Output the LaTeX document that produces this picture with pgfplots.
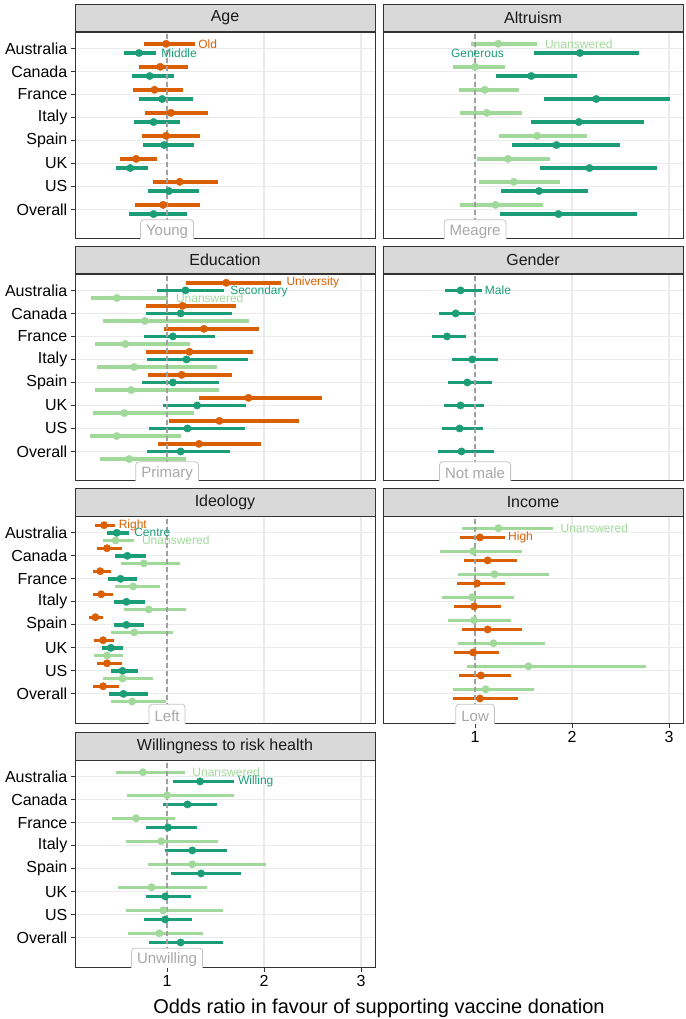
\documentclass[border=0pt]{standalone}
\usepackage{fontspec}
\setmainfont{Liberation Sans}
\usepackage{pgfplots}
\pgfplotsset{compat=1.18}
\definecolor{cOr}{HTML}{D95F02}
\definecolor{cTe}{HTML}{1B9E77}
\definecolor{cLi}{HTML}{A1D99B}
\definecolor{gridc}{HTML}{EBEBEB}
\definecolor{bord}{HTML}{333333}
\definecolor{stripc}{HTML}{D9D9D9}
\definecolor{refb}{HTML}{C4C4C4}
\definecolor{reft}{HTML}{A8A8A8}
\definecolor{dashc}{HTML}{A0A0A0}
\tikzset{
  refline/.style={dashc, line width=1.3pt, dash pattern=on 5pt off 3pt},
  refbox/.style={draw=refb, fill=white, rounded corners=3pt, text=reft,
    font=\fontsize{15}{18}\selectfont, inner xsep=5.5pt, inner ysep=0pt,
    minimum height=23.4pt, line width=0.8pt},
  lab/.style={anchor=west, inner sep=0pt, text=#1, font=\fontsize{12}{14}\selectfont},
}
\pgfplotsset{
  panel/.style={scale only axis, width=300pt, height=206.6pt,
    xmin=0.05, xmax=3.145, ymin=-0.28, ymax=8.70,
    xtick={1,2,3}, ytick={1,2,3,4,5,6,7,8},
    grid=major, major grid style={draw=gridc, line width=1.1pt},
    axis line style={draw=bord, line width=0.9pt},
    tick align=outside, tick pos=left, major tick length=4.5pt,
    tick style={draw=bord, line width=0.9pt},
    /pgf/number format/assume math mode=true,
    tick label style={font=\fontsize{16}{19}\selectfont, text=black},
    yticklabel style={inner xsep=3pt},
    every axis title/.style={at={(0.5,1)}, anchor=south, draw=bord, fill=stripc,
      line width=0.9pt, minimum width=300pt, minimum height=27.5pt, inner sep=0pt,
      font=\fontsize{16}{19}\selectfont, text={black!90}},
  },
  leftcol/.style={yticklabels={Overall,US,UK,Spain,Italy,France,Canada,Australia}},
  rightcol/.style={yticklabels={}, y tick style={draw=none}},
  notbottom/.style={xticklabels={}, x tick style={draw=none}},
  ci/.style={only marks, mark=*, mark size=3.7pt, color=#1,
    error bars/.cd, x dir=both, x explicit, error mark=none,
    error bar style={line width=3.4pt, solid}},
}
% table columns: row est lo hi
\newcommand{\ciplot}[3]{\addplot[ci=#1] table[row sep=\\, x=est, y expr=\thisrow{row}+#2,
  x error plus expr=\thisrow{hi}-\thisrow{est},
  x error minus expr=\thisrow{est}-\thisrow{lo}] {#3};}
\newcommand{\vref}{\addplot[refline] coordinates {(1,-1) (1,10)};}
\begin{document}
\begin{tikzpicture}
\useasboundingbox (0pt,0pt) rectangle (685pt,-1019pt);

% ---------- Age ----------
\begin{axis}[panel, leftcol, notbottom, at={(75pt,-32.3pt)}, anchor=north west, title={Age}]
\ciplot{cOr}{0.2}{
row est lo hi\\
8 0.99 0.76 1.29\\
7 0.93 0.71 1.22\\
6 0.87 0.65 1.16\\
5 1.04 0.77 1.42\\
4 0.99 0.74 1.34\\
3 0.68 0.51 0.90\\
2 1.13 0.85 1.53\\
1 0.96 0.67 1.34\\
}
\ciplot{cTe}{-0.2}{
row est lo hi\\
8 0.71 0.56 0.89\\
7 0.82 0.64 1.07\\
6 0.95 0.71 1.27\\
5 0.86 0.66 1.13\\
4 0.97 0.75 1.28\\
3 0.62 0.47 0.80\\
2 1.02 0.80 1.33\\
1 0.86 0.61 1.21\\
}
\vref
\node[lab=cOr] at (axis cs:1.32,8.2) {Old};
\node[lab=cTe] at (axis cs:0.94,7.8) {Middle};
\node[refbox] at (axis cs:1,0.04) {Young};
\end{axis}

% ---------- Altruism ----------
\begin{axis}[panel, rightcol, notbottom, at={(383pt,-32.3pt)}, anchor=north west, title={Altruism}]
\ciplot{cLi}{0.2}{
row est lo hi\\
8 1.24 0.96 1.64\\
7 1.00 0.77 1.31\\
6 1.10 0.83 1.45\\
5 1.12 0.84 1.48\\
4 1.64 1.25 2.15\\
3 1.34 1.02 1.77\\
2 1.40 1.04 1.88\\
1 1.21 0.84 1.70\\
}
\ciplot{cTe}{-0.2}{
row est lo hi\\
8 2.08 1.61 2.69\\
7 1.58 1.22 2.05\\
6 2.25 1.71 3.01\\
5 2.07 1.58 2.74\\
4 1.84 1.38 2.49\\
3 2.18 1.67 2.88\\
2 1.66 1.27 2.16\\
1 1.86 1.26 2.67\\
}
\vref
\node[lab=cLi] at (axis cs:1.72,8.2) {Unanswered};
\node[lab=cTe] at (axis cs:0.75,7.8) {Generous};
\node[refbox] at (axis cs:1,0.04) {Meagre};
\end{axis}

% ---------- Education ----------
\begin{axis}[panel, leftcol, notbottom, at={(75pt,-274.3pt)}, anchor=north west, title={Education}]
\ciplot{cOr}{0.33}{
row est lo hi\\
8 1.61 1.20 2.18\\
7 1.16 0.78 1.71\\
6 1.38 0.97 1.95\\
5 1.23 0.78 1.89\\
4 1.15 0.80 1.67\\
3 1.84 1.33 2.60\\
2 1.54 1.02 2.36\\
1 1.33 0.91 1.97\\
}
\ciplot{cTe}{0}{
row est lo hi\\
8 1.19 0.90 1.59\\
7 1.14 0.78 1.67\\
6 1.06 0.76 1.49\\
5 1.20 0.79 1.83\\
4 1.06 0.74 1.54\\
3 1.31 0.96 1.81\\
2 1.21 0.81 1.80\\
1 1.14 0.79 1.65\\
}
\ciplot{cLi}{-0.33}{
row est lo hi\\
8 0.48 0.22 1.01\\
7 0.77 0.34 1.85\\
6 0.57 0.26 1.24\\
5 0.66 0.28 1.52\\
4 0.63 0.26 1.54\\
3 0.56 0.24 1.28\\
2 0.48 0.20 1.14\\
1 0.61 0.31 1.19\\
}
\vref
\node[lab=cOr] at (axis cs:2.23,8.33) {University};
\node[lab=cTe] at (axis cs:1.65,7.97) {Secondary};
\node[lab=cLi] at (axis cs:1.09,7.67) {Unanswered};
\node[refbox] at (axis cs:1,0.04) {Primary};
\end{axis}

% ---------- Gender ----------
\begin{axis}[panel, rightcol, notbottom, at={(383pt,-274.3pt)}, anchor=north west, title={Gender}]
\ciplot{cTe}{0}{
row est lo hi\\
8 0.85 0.69 1.07\\
7 0.80 0.63 1.00\\
6 0.71 0.56 0.91\\
5 0.97 0.76 1.24\\
4 0.92 0.72 1.17\\
3 0.85 0.68 1.09\\
2 0.84 0.66 1.08\\
1 0.86 0.62 1.20\\
}
\vref
\node[lab=cTe] at (axis cs:1.10,8) {Male};
\node[refbox] at (axis cs:1,0.04) {Not male};
\end{axis}

% ---------- Ideology ----------
\begin{axis}[panel, leftcol, notbottom, at={(75pt,-516.7pt)}, anchor=north west, title={Ideology}]
\ciplot{cOr}{0.33}{
row est lo hi\\
8 0.35 0.26 0.46\\
7 0.38 0.28 0.53\\
6 0.31 0.24 0.42\\
5 0.32 0.24 0.44\\
4 0.26 0.19 0.34\\
3 0.34 0.25 0.45\\
2 0.38 0.28 0.53\\
1 0.34 0.24 0.50\\
}
\ciplot{cTe}{0}{
row est lo hi\\
8 0.48 0.38 0.61\\
7 0.59 0.46 0.78\\
6 0.52 0.39 0.69\\
5 0.58 0.45 0.77\\
4 0.58 0.45 0.76\\
3 0.42 0.33 0.55\\
2 0.54 0.42 0.70\\
1 0.55 0.40 0.80\\
}
\ciplot{cLi}{-0.33}{
row est lo hi\\
8 0.47 0.34 0.66\\
7 0.76 0.52 1.13\\
6 0.65 0.46 0.93\\
5 0.81 0.56 1.20\\
4 0.66 0.42 1.06\\
3 0.38 0.25 0.55\\
2 0.54 0.34 0.85\\
1 0.64 0.42 0.99\\
}
\vref
\node[lab=cOr] at (axis cs:0.50,8.33) {Right};
\node[lab=cTe] at (axis cs:0.66,8.0) {Centre};
\node[lab=cLi] at (axis cs:0.74,7.67) {Unanswered};
\node[refbox] at (axis cs:1,0.04) {Left};
\end{axis}

% ---------- Income ----------
\begin{axis}[panel, rightcol, at={(383pt,-516.7pt)}, anchor=north west, title={Income}]
\ciplot{cLi}{0.2}{
row est lo hi\\
8 1.24 0.86 1.80\\
7 0.98 0.64 1.48\\
6 1.20 0.82 1.76\\
5 0.97 0.66 1.40\\
4 0.99 0.72 1.37\\
3 1.19 0.82 1.72\\
2 1.55 0.92 2.76\\
1 1.11 0.77 1.61\\
}
\ciplot{cOr}{-0.2}{
row est lo hi\\
8 1.05 0.84 1.31\\
7 1.13 0.89 1.43\\
6 1.02 0.81 1.31\\
5 0.99 0.78 1.27\\
4 1.13 0.87 1.48\\
3 0.98 0.78 1.25\\
2 1.06 0.83 1.37\\
1 1.05 0.77 1.44\\
}
\vref
\node[lab=cLi] at (axis cs:1.88,8.2) {Unanswered};
\node[lab=cOr] at (axis cs:1.34,7.8) {High};
\node[refbox] at (axis cs:1,0.04) {Low};
\end{axis}

% ---------- Willingness ----------
\begin{axis}[panel, leftcol, at={(75pt,-760.7pt)}, anchor=north west, title={Willingness to risk health},
  xlabel={Odds ratio in favour of supporting vaccine donation},
  every axis x label/.style={at={(axis description cs:1.0133,-0.197)}, anchor=center,
    font=\fontsize{20}{24}\selectfont, text=black}]
\ciplot{cLi}{0.2}{
row est lo hi\\
8 0.75 0.47 1.18\\
7 1.00 0.59 1.69\\
6 0.68 0.43 1.08\\
5 0.94 0.58 1.53\\
4 1.26 0.80 2.02\\
3 0.84 0.49 1.41\\
2 0.96 0.58 1.58\\
1 0.92 0.60 1.37\\
}
\ciplot{cTe}{-0.2}{
row est lo hi\\
8 1.34 1.06 1.69\\
7 1.21 0.96 1.52\\
6 1.01 0.78 1.31\\
5 1.26 0.98 1.62\\
4 1.35 1.04 1.76\\
3 0.98 0.78 1.25\\
2 0.98 0.76 1.26\\
1 1.14 0.81 1.58\\
}
\vref
\node[lab=cLi] at (axis cs:1.26,8.2) {Unanswered};
\node[lab=cTe] at (axis cs:1.73,7.8) {Willing};
\node[refbox] at (axis cs:1,0.04) {Unwilling};
\end{axis}
\end{tikzpicture}
\end{document}
